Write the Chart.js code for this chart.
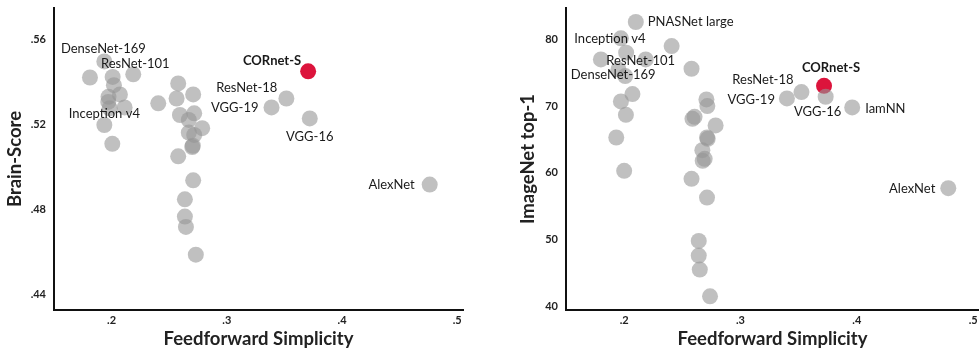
<!DOCTYPE html>
<html>
<head>
<meta charset="utf-8">
<script src="https://cdn.jsdelivr.net/npm/chart.js@4"></script>
<style>
  body { margin: 0; background: #fff; overflow: hidden; }
  .panel { position: absolute; top: 0; }
</style>
</head>
<body>
<div class="panel" style="left:0px"><canvas id="brain_chart" width="478" height="348"></canvas></div>
<div class="panel" style="left:490px"><canvas id="imagenet_chart" width="497" height="348"></canvas></div>
<script>
// x ticks shared by both panels
const simplicityTicks = [0.2, 0.3, 0.4, 0.5];

// ---- Brain-Score panel ----
const bsTicks = [0.44, 0.48, 0.52, 0.56];
const bsOtherX = [0.1812, 0.2009, 0.2020, 0.2072, 0.1973, 0.1971, 0.1983, 0.2113, 0.2006,
                  0.2578, 0.2405, 0.2564, 0.2708, 0.2593, 0.2717, 0.2670, 0.2786, 0.2670,
                  0.2717, 0.2705, 0.2700, 0.2578, 0.2708, 0.2636, 0.2636, 0.2645, 0.2731];
const bsOtherY = [0.5422, 0.5425, 0.5386, 0.5342, 0.5331, 0.5307, 0.5277, 0.5281, 0.5109,
                  0.5394, 0.5300, 0.5323, 0.5342, 0.5245, 0.5253, 0.5222, 0.5183, 0.5162,
                  0.5151, 0.5100, 0.5094, 0.5050, 0.4937, 0.4847, 0.4766, 0.4717, 0.4586];
const bsNamed  = ['DenseNet-169', 'ResNet-101', 'Inception v4', 'ResNet-18', 'VGG-19', 'VGG-16', 'AlexNet'];
const bsNamedX = [0.1937, 0.2188, 0.1937, 0.3517, 0.3388, 0.3720, 0.4761];
const bsNamedY = [0.5498, 0.5437, 0.5198, 0.5323, 0.5281, 0.5229, 0.4917];
const bsCornetX = 0.3706;
const bsCornetY = 0.5451;

// ---- ImageNet panel ----
const inTicks = [40, 50, 60, 70, 80];
const inOtherX = [0.2408, 0.2017, 0.1800, 0.1951, 0.2071, 0.1972, 0.2015, 0.1932, 0.2000,
                  0.2579, 0.2707, 0.2715, 0.2587, 0.2605, 0.2786, 0.2712, 0.2718, 0.2672,
                  0.2692, 0.2675, 0.2579, 0.2712, 0.2641, 0.2641, 0.2650, 0.2738];
const inOtherY = [79.0, 78.0, 77.0, 75.5, 71.8, 70.7, 68.7, 65.3, 60.3,
                  75.6, 71.0, 70.0, 68.1, 68.4, 67.1, 65.3, 65.1, 63.4,
                  62.1, 61.8, 59.1, 56.3, 49.8, 47.6, 45.5, 41.5];
const inNamed  = ['PNASNet large', 'Inception v4', 'ResNet-101', 'DenseNet-169', 'ResNet-18', 'VGG-19', 'VGG-16', 'IamNN', 'AlexNet'];
const inNamedX = [0.2100, 0.1972, 0.2185, 0.2009, 0.3524, 0.3399, 0.3732, 0.3960, 0.4786];
const inNamedY = [82.6, 80.15, 77.0, 74.5, 72.1, 71.15, 71.4, 69.8, 57.7];
const inCornetX = 0.3718;
const inCornetY = 73.04;

// label placement relative to the dot: [dx, dy, align]
const bsLabelPos = {
    'DenseNet-169': [-1, -13, 'center'],
    'ResNet-101': [2, -11, 'center'],
    'Inception v4': [0, -11, 'center'],
    'ResNet-18': [-9, -11, 'right'],
    'VGG-19': [-13, 0, 'right'],
    'VGG-16': [0, 18, 'center'],
    'AlexNet': [-15, 0, 'right'],
    'CORnet-S': [-7, -11, 'right']
};
const inLabelPos = {
    'PNASNet large': [12, 0, 'left'],
    'Inception v4': [-11, 0, 'center'],
    'ResNet-101': [-5, 1, 'center'],
    'DenseNet-169': [-12, -1, 'center'],
    'ResNet-18': [-8, -12, 'right'],
    'VGG-19': [-12, 1, 'right'],
    'VGG-16': [-8, 15, 'center'],
    'IamNN': [13, 1, 'left'],
    'AlexNet': [-13, 1, 'right'],
    'CORnet-S': [7, -18, 'center']
};

const FONT = 'Lato, "Open Sans", sans-serif';
const GREY = 'rgba(150,150,150,0.6)';
const RED = '#dc143c';

function toPoints(xs, ys) {
    return xs.map((x, i) => ({ x: x, y: ys[i] }));
}

// draws model names next to their dots
const modelLabels = {
    id: 'modelLabels',
    afterDatasetsDraw(chart, args, opts) {
        const ctx = chart.ctx;
        const xs = chart.scales.x, ys = chart.scales.y;
        ctx.save();
        ctx.fillStyle = '#1a1a1a';
        ctx.textBaseline = 'middle';
        opts.items.forEach(function(it) {
            const pos = opts.pos[it.name];
            const px = xs.getPixelForValue(it.x) + pos[0];
            const py = ys.getPixelForValue(it.y) + pos[1];
            ctx.font = (it.bold ? 'bold ' : '') + '13px ' + FONT;
            ctx.textAlign = pos[2];
            ctx.fillText(it.name, px, py);
        });
        ctx.restore();
    }
};

function make_chart(id, cfg) {
    const ctx = document.getElementById(id).getContext('2d');
    const items = cfg.named.map((n, i) => ({ name: n, x: cfg.namedX[i], y: cfg.namedY[i] }));
    items.push({ name: 'CORnet-S', x: cfg.cornetX, y: cfg.cornetY, bold: true });
    return new Chart(ctx, {
        type: 'scatter',
        data: {
            datasets: [{
                data: toPoints(cfg.otherX, cfg.otherY),
                backgroundColor: GREY,
                borderWidth: 0,
                pointRadius: 8
            }, {
                data: toPoints(cfg.namedX, cfg.namedY),
                backgroundColor: GREY,
                borderWidth: 0,
                pointRadius: 8
            }, {
                data: [{ x: cfg.cornetX, y: cfg.cornetY }],
                backgroundColor: RED,
                borderWidth: 0,
                pointRadius: 8
            }]
        },
        options: {
            responsive: false,
            animation: false,
            events: [],
            layout: { padding: { top: cfg.padTop, right: cfg.padRight, left: 0, bottom: 0 } },
            scales: {
                x: {
                    type: 'linear',
                    min: 0.15,
                    max: 0.505,
                    afterBuildTicks: function(scale) {
                        scale.ticks = simplicityTicks.map(v => ({ value: v }));
                    },
                    afterFit: function(scale) {
                        scale.height = 38;
                        scale.paddingLeft = 0;
                        scale.paddingRight = 0;
                    },
                    grid: { display: false, drawTicks: false },
                    border: { display: true, color: '#111', width: 2 },
                    ticks: {
                        padding: 4,
                        color: '#222',
                        font: { family: FONT, size: 11, weight: 'bold' },
                        callback: function(value) {
                            return String(value).replace(/^0/, '');
                        }
                    },
                    title: {
                        display: true,
                        text: 'Feedforward Simplicity',
                        color: '#222',
                        font: { family: FONT, size: 18.5, weight: 'bold' },
                        padding: { top: 0, bottom: -2 }
                    }
                },
                y: {
                    type: 'linear',
                    min: cfg.yMin,
                    max: cfg.yMax,
                    afterBuildTicks: function(scale) {
                        scale.ticks = cfg.yTicks.map(v => ({ value: v }));
                    },
                    afterFit: function(scale) {
                        scale.width = cfg.yWidth;
                        scale.paddingTop = 0;
                        scale.paddingBottom = 0;
                    },
                    grid: { display: false, drawTicks: false },
                    border: { display: true, color: '#111', width: 2 },
                    ticks: {
                        padding: 8,
                        color: '#222',
                        font: { family: FONT, size: 11, weight: 'bold' },
                        callback: cfg.yFormat
                    },
                    title: {
                        display: true,
                        text: cfg.yTitle,
                        color: '#222',
                        font: { family: FONT, size: 18.5, weight: 'bold' },
                        padding: { top: cfg.yTitlePad, bottom: 0 }
                    }
                }
            },
            plugins: {
                legend: { display: false },
                tooltip: { enabled: false },
                modelLabels: { items: items, pos: cfg.labelPos }
            }
        },
        plugins: [modelLabels]
    });
}

window.onload = function(event) {
    make_chart('brain_chart', {
        otherX: bsOtherX, otherY: bsOtherY,
        named: bsNamed, namedX: bsNamedX, namedY: bsNamedY,
        cornetX: bsCornetX, cornetY: bsCornetY,
        yTicks: bsTicks, yMin: 0.4325, yMax: 0.575,
        yTitle: 'Brain-Score',
        yFormat: function(value) { return String(value).replace(/^0/, ''); },
        labelPos: bsLabelPos,
        yWidth: 54, yTitlePad: 4, padTop: 8, padRight: 15
    });
    make_chart('imagenet_chart', {
        otherX: inOtherX, otherY: inOtherY,
        named: inNamed, namedX: inNamedX, namedY: inNamedY,
        cornetX: inCornetX, cornetY: inCornetY,
        yTicks: inTicks, yMin: 39.45, yMax: 84.7,
        yTitle: 'ImageNet top-1',
        yFormat: function(value) { return value; },
        labelPos: inLabelPos,
        yWidth: 76, yTitlePad: 27, padTop: 7, padRight: 0
    });
};
</script>
</body>
</html>
